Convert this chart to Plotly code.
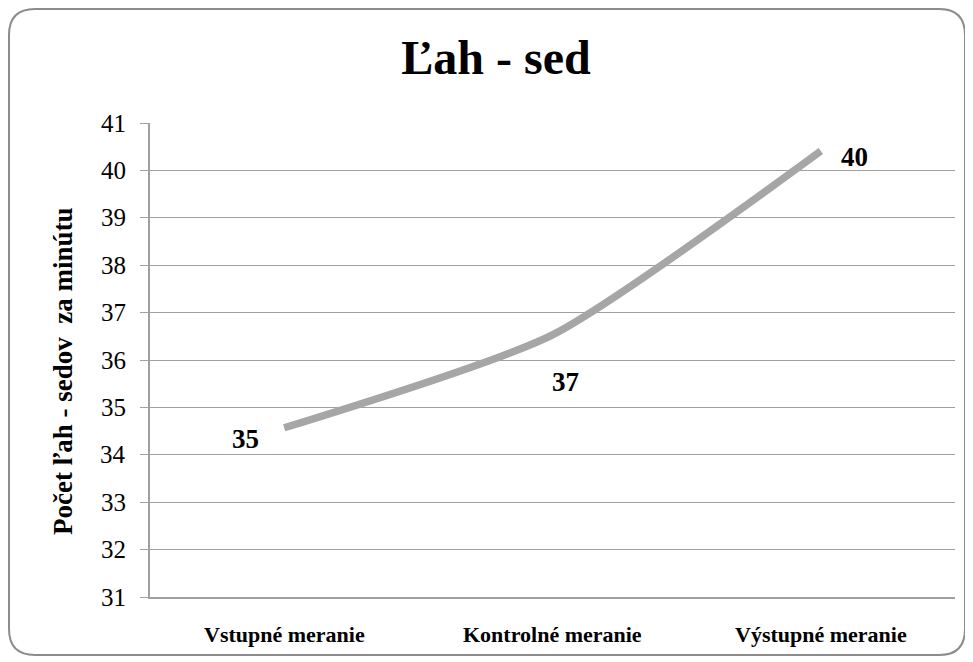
import plotly.graph_objects as go

categories = ["Vstupné meranie", "Kontrolné meranie", "Výstupné meranie"]
values = [34.57, 36.53, 40.41]
labels = ["35", "37", "40"]
y_ticks = list(range(31, 42))

# the page body adds an 8px offset, so the figure is built 8px smaller
OFF = 8
W, H = 973 - OFF, 662 - OFF
L, R, T, B = 150 - OFF, 18, 123 - OFF, 65
pw, ph = W - L - R, H - T - B

def px(x):
    return (x - OFF - L) / pw

def py(y):
    return (H - B - (y - OFF)) / ph

SERIF = "Liberation Serif"

fig = go.Figure()
fig.add_trace(go.Scatter(
    x=categories, y=values, mode="lines",
    line=dict(color="#A6A6A6", width=7.5, shape="spline", smoothing=0.6),
    hoverinfo="skip", showlegend=False,
))

shifts = [(-39, -11), (13, -47), (34, -6)]
for c, v, t, (dx, dy) in zip(categories, values, labels, shifts):
    fig.add_annotation(x=c, y=v, text=f"<b>{t}</b>", showarrow=False,
                       xshift=dx, yshift=dy,
                       font=dict(family=SERIF, size=27, color="black"))

# y tick labels (serif) placed on the y scale
for v in y_ticks:
    fig.add_annotation(x=0, xref="paper", y=v, yref="y", text=str(v),
                       showarrow=False, xanchor="right", yanchor="middle",
                       xshift=-22, font=dict(family=SERIF, size=25, color="black"))

# x tick labels (serif bold) placed on the category scale
for c in categories:
    fig.add_annotation(x=c, xref="x", y=py(634), yref="paper", text=f"<b>{c}</b>",
                       showarrow=False, xanchor="center", yanchor="middle",
                       font=dict(family=SERIF, size=22, color="black"))

# y axis title
fig.add_annotation(x=px(63), y=py(371), xref="paper", yref="paper",
                   text="<b>Počet ľah - sedov  za minútu</b>", textangle=-90,
                   showarrow=False, xanchor="center", yanchor="middle",
                   font=dict(family=SERIF, size=27, color="black"))

# rounded border (page pixel coordinates)
x0, y0, x1, y1, r = 9, 9, 965, 655, 26
path = (f"M {px(x0+r)},{py(y0)} L {px(x1-r)},{py(y0)} Q {px(x1)},{py(y0)} {px(x1)},{py(y0+r)} "
        f"L {px(x1)},{py(y1-r)} Q {px(x1)},{py(y1)} {px(x1-r)},{py(y1)} "
        f"L {px(x0+r)},{py(y1)} Q {px(x0)},{py(y1)} {px(x0)},{py(y1-r)} "
        f"L {px(x0)},{py(y0+r)} Q {px(x0)},{py(y0)} {px(x0+r)},{py(y0)} Z")

fig.update_layout(
    width=W, height=H,
    margin=dict(l=L, r=R, t=T, b=B),
    paper_bgcolor="white", plot_bgcolor="white",
    font=dict(family=SERIF, color="black"),
    title=dict(text="<b>Ľah - sed</b>", x=px(496), xref="paper", xanchor="center",
               y=1 - (57 - OFF) / H, yanchor="middle",
               font=dict(family=SERIF, size=48, color="black")),
    shapes=[dict(type="path", xref="paper", yref="paper", path=path,
                 line=dict(color="#8C8C8C", width=2), layer="above")],
    xaxis=dict(type="category", range=[-0.5, 2.5], showgrid=False,
               showline=True, linecolor="#A0A0A0", linewidth=1.5,
               ticks="", showticklabels=False),
    yaxis=dict(range=[31, 41], tickvals=y_ticks, showgrid=True,
               gridcolor="#A0A0A0", gridwidth=1.2,
               showline=True, linecolor="#A0A0A0", linewidth=1.5,
               ticks="outside", ticklen=8, tickcolor="#A0A0A0",
               showticklabels=False, zeroline=False),
)

fig.write_html("out.html")
